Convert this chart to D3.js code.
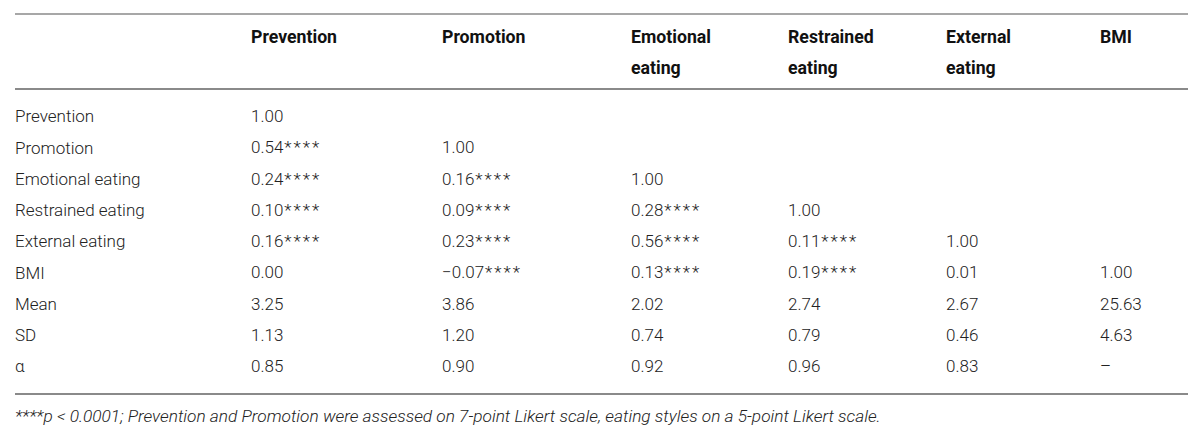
<!DOCTYPE html>
<html lang="en">
<head>
<meta charset="UTF-8">
<title>Correlations table</title>
<script src="https://d3js.org/d3.v7.min.js"></script>
<style>
  body { margin: 0; background: #fff; }
  .cell { font-family: Roboto, "Liberation Sans", sans-serif; font-weight: 300; font-size: 17px; fill: #222; }
  .stars { letter-spacing: 2px; }
  .head { font-family: Roboto, "Liberation Sans", sans-serif; font-weight: 700; font-size: 17.7px; fill: #111; }
  .note { font-family: Roboto, "Liberation Sans", sans-serif; font-weight: 300; font-style: italic; font-size: 17.3px; fill: #222; }
</style>
</head>
<body>
<svg id="tbl" width="1200" height="442"></svg>
<script>
// table content
const columns = ["Prevention", "Promotion", "Emotional eating", "Restrained eating", "External eating", "BMI"];
const rowLabels = ["Prevention", "Promotion", "Emotional eating", "Restrained eating", "External eating", "BMI", "Mean", "SD", "α"];
const cells = [
  ["1.00", "", "", "", "", ""],
  ["0.54****", "1.00", "", "", "", ""],
  ["0.24****", "0.16****", "1.00", "", "", ""],
  ["0.10****", "0.09****", "0.28****", "1.00", "", ""],
  ["0.16****", "0.23****", "0.56****", "0.11****", "1.00", ""],
  ["0.00", "\u22120.07****", "0.13****", "0.19****", "0.01", "1.00"],
  ["3.25", "3.86", "2.02", "2.74", "2.67", "25.63"],
  ["1.13", "1.20", "0.74", "0.79", "0.46", "4.63"],
  ["0.85", "0.90", "0.92", "0.96", "0.83", "\u2013"]
];
const footnote = "****p < 0.0001; Prevention and Promotion were assessed on 7-point Likert scale, eating styles on a 5-point Likert scale.";

const svg = d3.select("#tbl");

const x = d3.scaleOrdinal().domain(columns).range([251, 442, 631, 788, 946, 1100]);
const y = d3.scalePoint().domain(rowLabels).range([118, 368]);

// rules
const rules = [{ y: 14, w: 1.6 }, { y: 89, w: 2.2 }, { y: 394, w: 2.2 }];
svg.selectAll("line.rule").data(rules).join("line")
  .attr("class", "rule")
  .attr("x1", 15).attr("x2", 1188)
  .attr("y1", d => d.y).attr("y2", d => d.y)
  .attr("stroke", "#8a8a8a")
  .attr("stroke-width", d => d.w);

// header (two-line labels)
const heads = svg.selectAll("text.head").data(columns).join("text")
  .attr("class", "head")
  .attr("x", d => x(d))
  .attr("y", 38)
  .attr("dominant-baseline", "middle");
heads.each(function(d) {
  const parts = d.split(" ");
  d3.select(this).selectAll("tspan").data(parts).join("tspan")
    .attr("x", x(d))
    .attr("dy", (p, i) => i === 0 ? 0 : 31)
    .text(p => p);
});

// row labels
svg.selectAll("text.rowlab").data(rowLabels).join("text")
  .attr("class", "cell rowlab")
  .attr("x", 15)
  .attr("y", d => y(d))
  .attr("dominant-baseline", "middle")
  .text(d => d);

// body cells, significance stars spaced out
const flat = [];
cells.forEach((row, r) => row.forEach((v, c) => { if (v) flat.push({ r: rowLabels[r], c: columns[c], v }); }));
const vals = svg.selectAll("text.val").data(flat).join("text")
  .attr("class", "cell val")
  .attr("x", d => x(d.c))
  .attr("y", d => y(d.r))
  .attr("dominant-baseline", "middle");
vals.append("tspan").text(d => d.v.replace(/\*+$/, ""));
vals.filter(d => /\*$/.test(d.v)).append("tspan")
  .attr("class", "stars")
  .attr("dx", 1)
  .text(d => d.v.match(/\*+$/)[0]);

// footnote
svg.append("text")
  .attr("class", "note")
  .attr("x", 15)
  .attr("y", 417)
  .attr("dominant-baseline", "middle")
  .text(footnote);
</script>
</body>
</html>
